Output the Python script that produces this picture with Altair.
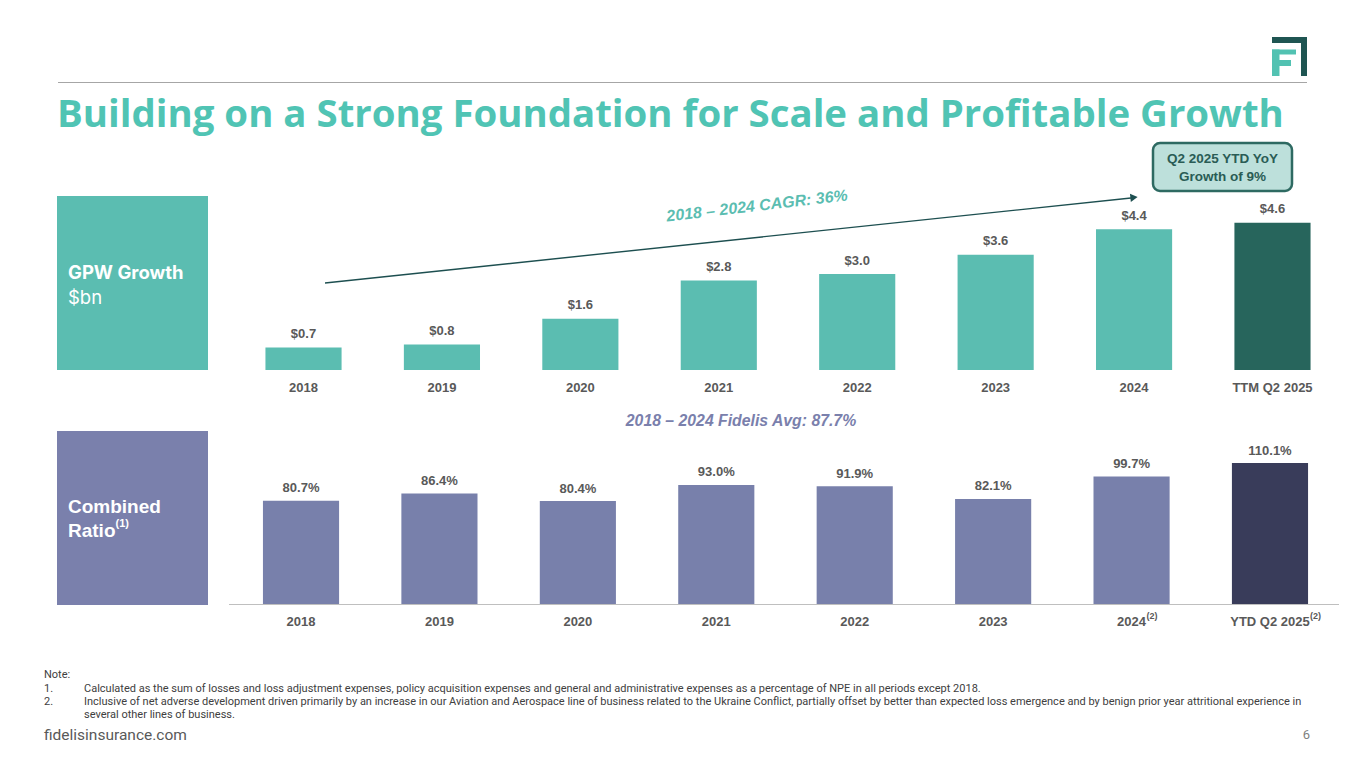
import altair as alt
import pandas as pd

# ---------------- data ----------------
gpw_cats = ["2018", "2019", "2020", "2021", "2022", "2023", "2024", "TTM Q2 2025"]
gpw_vals = [0.7, 0.8, 1.6, 2.8, 3.0, 3.6, 4.4, 4.6]
cr_cats = ["2018", "2019", "2020", "2021", "2022", "2023", "2024", "YTD Q2 2025"]
cr_vals = [80.7, 86.4, 80.4, 93.0, 91.9, 82.1, 99.7, 110.1]

title_text = "Building on a Strong Foundation for Scale and Profitable Growth"
cagr_text = "2018 \u2013 2024 CAGR: 36%"
avg_text = "2018 \u2013 2024 Fidelis Avg: 87.7%"
callout_lines = ["Q2 2025 YTD YoY", "Growth of 9%"]
note_lines = [
    "Calculated as the sum of losses and loss adjustment expenses, policy acquisition expenses and general and administrative expenses as a percentage of NPE in all periods except 2018.",
    "Inclusive of net adverse development driven primarily by an increase in our Aviation and Aerospace line of business related to the Ukraine Conflict, partially offset by better than expected loss emergence and by benign prior year attritional experience in",
    "several other lines of business.",
]

# ---------------- layout helpers ----------------
W, H = 1349, 752
OFF = 8


def px(v):
    return v - OFF


one = pd.DataFrame({"a": [0]})

TEAL = "#5BBDB1"
TEAL_D = "#27655C"
PURP = "#7880AB"
PURP_D = "#393C5A"
GRAY = "#595959"
LAB_FONT = "Liberation Sans"


def txt(s, x, y, **kw):
    base = dict(align="left", baseline="middle")
    base.update(kw)
    return alt.Chart(one).mark_text(text=s, **base).encode(
        x=alt.value(px(x)), y=alt.value(px(y))
    )


def rect(x1, y1, x2, y2, **kw):
    return alt.Chart(one).mark_rect(**kw).encode(
        x=alt.value(px(x1)), x2=alt.value(px(x2)),
        y=alt.value(px(y1)), y2=alt.value(px(y2)),
    )


def rule(x1, y1, x2, y2, **kw):
    return alt.Chart(one).mark_rule(**kw).encode(
        x=alt.value(px(x1)), x2=alt.value(px(x2)),
        y=alt.value(px(y1)), y2=alt.value(px(y2)),
    )


layers = []

# title, top line, logo
layers.append(rule(58, 82.5, 1307, 82.5, color="#A6A6A6", strokeWidth=1))
layers.append(txt(title_text, 57, 126.5, baseline="alphabetic", font="Open Sans",
                  fontSize=38.4, fontWeight="bold", color="#50C4B4"))
layers.append(rect(1272, 37, 1307, 43, color="#1F5552"))
layers.append(rect(1301, 37, 1307, 76, color="#1F5552"))
layers.append(rect(1272, 49.5, 1296, 54.5, color="#52C2B2"))
layers.append(rect(1272, 49.5, 1279.5, 76, color="#52C2B2"))
layers.append(rect(1272, 60, 1291, 66, color="#52C2B2"))

# left label boxes
layers.append(rect(57, 196, 208, 370, color=TEAL))
layers.append(txt("GPW Growth", 68, 273, font="Inter", fontSize=18.5, fontWeight="bold", color="white"))
layers.append(txt("$bn", 68, 298, font="Inter", fontSize=18.5, color="white"))
layers.append(rect(57, 431, 208, 605, color="#7A80AC"))
layers.append(txt("Combined", 68, 507, font=LAB_FONT, fontSize=19, fontWeight="bold", color="white"))
layers.append(txt("Ratio", 68, 531, font=LAB_FONT, fontSize=19, fontWeight="bold", color="white"))
layers.append(txt("(1)", 115.5, 524, font=LAB_FONT, fontSize=11, fontWeight="bold", color="white"))

# ---------------- GPW bars ----------------
gpw = pd.DataFrame({"cat": gpw_cats, "v": gpw_vals})
xs_top = alt.Scale(domain=gpw_cats, range=[px(234.3), px(1341.7)], paddingInner=0.45, paddingOuter=0.225)
ys_top = alt.Scale(domain=[0, 1], range=[px(370), px(338)], nice=False, zero=False)
X_top = alt.X("cat:N", scale=xs_top, axis=None, sort=gpw_cats)
Y_top = alt.Y("v:Q", scale=ys_top, axis=None)

layers.append(
    alt.Chart(gpw).mark_bar().encode(
        x=X_top, y=Y_top,
        color=alt.condition(alt.datum.cat == "TTM Q2 2025", alt.value(TEAL_D), alt.value(TEAL)),
    )
)
layers.append(
    alt.Chart(gpw).transform_calculate(lab="'$' + format(datum.v, '.1f')")
    .mark_text(dy=-13.5, font=LAB_FONT, fontSize=13, fontWeight="bold", color=GRAY)
    .encode(x=X_top, y=Y_top, text="lab:N")
)
layers.append(
    alt.Chart(gpw).mark_text(font=LAB_FONT, fontSize=13, fontWeight="bold", color=GRAY)
    .encode(x=X_top, y=alt.value(px(388)), text="cat:N")
)

# CAGR arrow
layers.append(rule(325, 283, 1131, 198, color="#1D4F50", strokeWidth=1.4))
layers.append(
    alt.Chart(one).mark_point(shape="triangle-right", filled=True, color="#1D4F50",
                              size=70, angle=354, opacity=1)
    .encode(x=alt.value(px(1134)), y=alt.value(px(197.5)))
)
layers.append(txt(cagr_text, 757, 206, align="center", angle=353.3, font=LAB_FONT,
                  fontSize=16, fontWeight="bold", fontStyle="italic", color="#5BBDB1"))

# callout
layers.append(rect(1153, 143, 1292, 191, fill="#BDE0DB", stroke="#2E6A62",
                   strokeWidth=2.5, cornerRadius=7))
layers.append(txt(callout_lines[0], 1222.5, 159, align="center", font=LAB_FONT,
                  fontSize=13.5, fontWeight="bold", color="#2A5C55"))
layers.append(txt(callout_lines[1], 1222.5, 177, align="center", font=LAB_FONT,
                  fontSize=13.5, fontWeight="bold", color="#2A5C55"))

# ---------------- Combined ratio bars ----------------
cr = pd.DataFrame({"cat": cr_cats, "v": cr_vals})
xs_bot = alt.Scale(domain=cr_cats, range=[px(231.8), px(1339.2)], paddingInner=0.45, paddingOuter=0.225)
ys_bot = alt.Scale(domain=[0, 100], range=[px(604), px(476)], nice=False, zero=False)
X_bot = alt.X("cat:N", scale=xs_bot, axis=None, sort=cr_cats)
Y_bot = alt.Y("v:Q", scale=ys_bot, axis=None)

layers.append(txt(avg_text, 741, 421, align="center", font=LAB_FONT, fontSize=15.8,
                  fontWeight="bold", fontStyle="italic", color="#7A80AC"))
layers.append(
    alt.Chart(cr).mark_bar().encode(
        x=X_bot, y=Y_bot,
        color=alt.condition(alt.datum.cat == "YTD Q2 2025", alt.value(PURP_D), alt.value(PURP)),
    )
)
layers.append(rule(229, 604.5, 1339, 604.5, color="#BFBFBF", strokeWidth=1.2))
layers.append(
    alt.Chart(cr).transform_calculate(lab="format(datum.v, '.1f') + '%'")
    .mark_text(dy=-12.5, font=LAB_FONT, fontSize=13, fontWeight="bold", color=GRAY)
    .encode(x=X_bot, y=Y_bot, text="lab:N")
)
layers.append(
    alt.Chart(cr).mark_text(font=LAB_FONT, fontSize=13, fontWeight="bold", color=GRAY)
    .encode(x=X_bot, y=alt.value(px(622)), text="cat:N")
)
layers.append(
    alt.Chart(cr).transform_filter(alt.datum.cat == "2024")
    .mark_text(text="(2)", align="left", dx=15, font=LAB_FONT, fontSize=9, fontWeight="bold", color=GRAY)
    .encode(x=X_bot, y=alt.value(px(616)))
)
layers.append(
    alt.Chart(cr).transform_filter(alt.datum.cat == "YTD Q2 2025")
    .mark_text(text="(2)", align="left", dx=40, font=LAB_FONT, fontSize=9, fontWeight="bold", color=GRAY)
    .encode(x=X_bot, y=alt.value(px(616)))
)

# ---------------- notes & footer ----------------
NOTE = dict(font="Roboto", fontSize=11, color="#404040")
layers.append(txt("Note:", 44, 675, **NOTE))
layers.append(txt("1.", 44, 688.5, **NOTE))
layers.append(txt(note_lines[0], 84, 688.5, **NOTE))
layers.append(txt("2.", 44, 701.5, **NOTE))
layers.append(txt(note_lines[1], 84, 701.5, **NOTE))
layers.append(txt(note_lines[2], 84, 714.5, **NOTE))
layers.append(txt("fidelisinsurance.com", 44, 735, font="Roboto", fontSize=15.5, color=GRAY))
layers.append(txt("6", 1310, 735, align="right", font="Roboto", fontSize=13, color="#7F7F7F"))

chart = (
    alt.layer(*layers)
    .resolve_scale(x="independent", y="independent")
    .properties(width=W, height=H, autosize=alt.AutoSizeParams(type="none"), padding=0,
                background="white")
    .configure_view(stroke=None)
)

chart.save("out.html", embed_options={"renderer": "svg", "actions": False})
